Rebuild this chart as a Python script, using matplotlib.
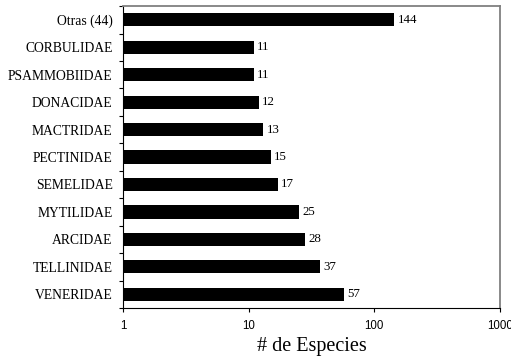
import numpy as np
import matplotlib.pyplot as plt
from matplotlib.ticker import FixedLocator, NullFormatter

# Families (top to bottom) and species counts
families = ["Otras (44)", "CORBULIDAE", "PSAMMOBIIDAE", "DONACIDAE", "MACTRIDAE",
            "PECTINIDAE", "SEMELIDAE", "MYTILIDAE", "ARCIDAE", "TELLINIDAE", "VENERIDAE"]
counts = [144, 11, 11, 12, 13, 15, 17, 25, 28, 37, 57]

fig = plt.figure(figsize=(5.11, 3.58), dpi=100)
ax = fig.add_axes([0.2407, 0.1397, 0.7373, 0.8433])

y = np.arange(len(families))[::-1]
ax.barh(y, counts, height=0.48, left=0, color="black")

ax.set_xscale("log")
ax.set_xlim(1, 1000)
ax.set_ylim(-0.5, len(families) - 0.5)

# value labels to the right of each bar
for yi, c in zip(y, counts):
    ax.annotate(str(c), (c, yi), xytext=(2.5, 0), textcoords="offset points",
                ha="left", va="center", fontsize=9.3, family="Liberation Serif")

ax.set_xticks([1, 10, 100, 1000])
ax.set_xticklabels(["1", "10", "100", "1000"], fontsize=8.3, family="Liberation Sans")
ax.xaxis.set_minor_locator(FixedLocator([]))
ax.tick_params(axis="x", length=3, width=0.8, direction="out", pad=6)

ax.set_yticks(y)
ax.set_yticklabels(families, fontsize=9.8, family="Liberation Serif")
ax.tick_params(axis="y", which="major", length=0, pad=7.5)
ax.yaxis.set_minor_locator(FixedLocator(np.arange(-0.5, len(families), 1.0)))
ax.yaxis.set_minor_formatter(NullFormatter())
ax.tick_params(axis="y", which="minor", length=3, width=0.8, direction="out")

ax.set_xlabel("# de Especies", fontsize=14.5, family="Liberation Serif", labelpad=3)

for side in ["top", "right"]:
    ax.spines[side].set_color("#808080")
    ax.spines[side].set_linewidth(1.3)
for side in ["left", "bottom"]:
    ax.spines[side].set_color("black")
    ax.spines[side].set_linewidth(0.8)

fig.savefig("out.png", dpi=100)
